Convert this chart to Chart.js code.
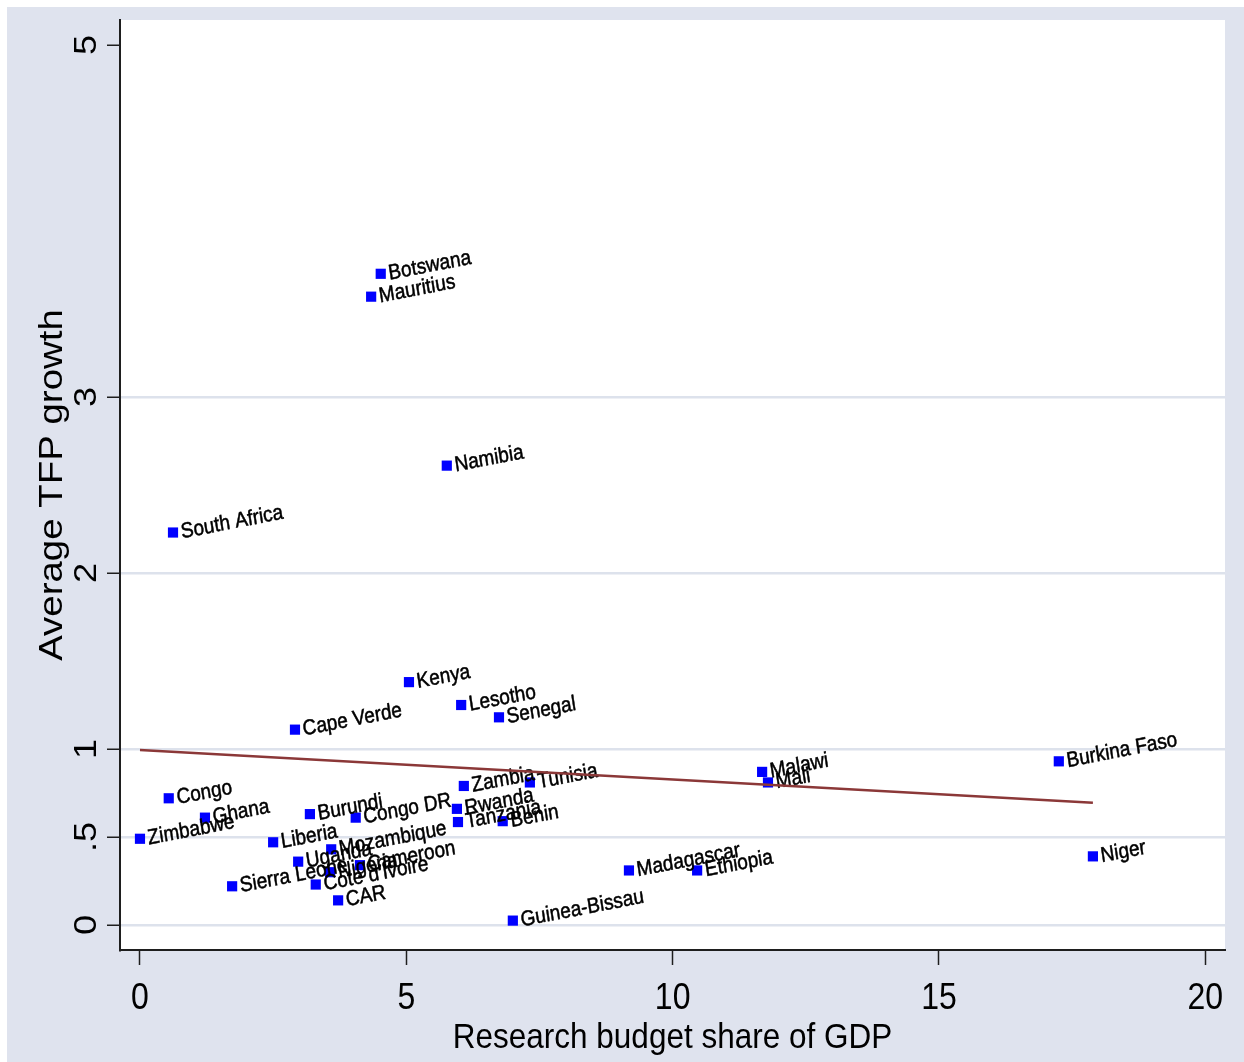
<!DOCTYPE html>
<html>
<head>
<meta charset="utf-8">
<script src="https://cdn.jsdelivr.net/npm/chart.js@4/dist/chart.umd.min.js"></script>
<style>
  html, body { margin: 0; padding: 0; background: #ffffff; }
  canvas { display: block; }
</style>
</head>
<body>
<canvas id="chart" width="1244" height="1062"></canvas>
<script>
// Country names, research budget share of GDP (%) and average TFP growth (%)
const countries = [
  'Botswana', 'Mauritius', 'Namibia', 'South Africa', 'Kenya', 'Lesotho', 'Senegal',
  'Cape Verde', 'Burkina Faso', 'Malawi', 'Mali', 'Zambia', 'Tunisia', 'Congo', 'Ghana',
  'Zimbabwe', 'Burundi', 'Congo DR', 'Rwanda', 'Tanzania', 'Benin', 'Liberia',
  'Mozambique', 'Uganda', 'Nigeria', 'Cameroon', "Cote d'Ivoire", 'CAR', 'Sierra Leone',
  'Guinea-Bissau', 'Madagascar', 'Ethiopia', 'Niger'
];
const researchShare = [
  4.52, 4.34, 5.76, 0.62, 5.05, 6.03, 6.74,
  2.91, 17.25, 11.68, 11.79, 6.08, 7.32, 0.54, 1.22,
  0.00, 3.19, 4.05, 5.95, 5.97, 6.81, 2.50,
  3.59, 2.97, 3.57, 4.13, 3.30, 3.72, 1.73,
  7.00, 9.18, 10.46, 17.89
];
const tfpGrowth = [
  3.70, 3.57, 2.61, 2.23, 1.38, 1.25, 1.18,
  1.11, 0.93, 0.87, 0.81, 0.79, 0.81, 0.72, 0.61,
  0.49, 0.63, 0.61, 0.66, 0.585, 0.59, 0.47,
  0.43, 0.36, 0.30, 0.34, 0.23, 0.14, 0.22,
  0.025, 0.31, 0.31, 0.39
];

// Linear fit line endpoints
const fitX = [0, 17.89];
const fitY = [0.994, 0.695];

// Axis ticks
const xTickValues = [0, 5, 10, 15, 20];
const xTickLabels = ['0', '5', '10', '15', '20'];
const yTickValues = [0, 0.5, 1, 2, 3, 5];
const yTickLabels = ['0', '.5', '1', '2', '3', '5'];

const xTitle = 'Research budget share of GDP';
const yTitle = 'Average TFP growth';

const FONT = '"Liberation Sans", Arial, Helvetica, sans-serif';
const STRETCH = 1.13;                 // glyphs are taller than wide
const LABEL_ANGLE = 9.76 * Math.PI / 180;
const OUTER_BG = '#dfe3ee';
const GRID = '#dde2ec';
const AXIS = '#1e1e1e';

const scatterPoints = researchShare.map((x, i) => ({ x: x, y: tfpGrowth[i] }));
const fitPoints = fitX.map((x, i) => ({ x: x, y: fitY[i] }));

const backgroundPlugin = {
  id: 'panelBackground',
  beforeDraw(chart) {
    const { ctx, chartArea: a } = chart;
    ctx.save();
    ctx.fillStyle = '#ffffff';
    ctx.fillRect(0, 0, chart.width, chart.height);
    ctx.fillStyle = OUTER_BG;
    ctx.fillRect(7, 7, chart.width - 7, chart.height - 7);
    ctx.fillStyle = '#ffffff';
    ctx.fillRect(a.left, a.top, a.right - a.left, a.bottom - a.top);
    ctx.restore();
  }
};

// Country name beside each marker, drawn before the fit line
const countryLabelPlugin = {
  id: 'countryLabels',
  afterDatasetDraw(chart, args) {
    if (args.index !== 0) return;
    const ctx = chart.ctx;
    ctx.save();
    ctx.fillStyle = '#000000';
    ctx.strokeStyle = '#000000';
    ctx.lineWidth = 0.45;
    ctx.font = '19px ' + FONT;
    ctx.textAlign = 'left';
    ctx.textBaseline = 'middle';
    args.meta.data.forEach((pt, i) => {
      ctx.save();
      ctx.translate(pt.x + 8, pt.y);
      ctx.scale(1, STRETCH);
      ctx.rotate(-LABEL_ANGLE);
      ctx.fillText(countries[i], 0, 0);
      ctx.strokeText(countries[i], 0, 0);
      ctx.restore();
    });
    ctx.restore();
  }
};

// Tick labels and axis titles
const axisTextPlugin = {
  id: 'axisText',
  afterDraw(chart) {
    const { ctx, chartArea: a } = chart;
    const xs = chart.scales.x, ys = chart.scales.y;
    ctx.save();
    ctx.fillStyle = '#000000';

    ctx.font = '32px ' + FONT;
    ctx.textAlign = 'center';
    ctx.textBaseline = 'alphabetic';
    xTickValues.forEach((v, i) => {
      ctx.save();
      ctx.translate(xs.getPixelForValue(v), 1009);
      ctx.scale(1, STRETCH);
      ctx.fillText(xTickLabels[i], 0, 0);
      ctx.restore();
    });
    yTickValues.forEach((v, i) => {
      ctx.save();
      ctx.translate(95.5, ys.getPixelForValue(v));
      ctx.scale(1, STRETCH);
      ctx.rotate(-Math.PI / 2);
      ctx.fillText(yTickLabels[i], 0, 0);
      ctx.restore();
    });

    ctx.save();
    ctx.font = '31.5px ' + FONT;
    ctx.translate((a.left + a.right) / 2, 1048);
    ctx.scale(1, STRETCH);
    ctx.fillText(xTitle, 0, 0);
    ctx.restore();

    ctx.save();
    ctx.font = '34px ' + FONT;
    ctx.translate(62, (a.top + a.bottom) / 2);
    ctx.scale(1, STRETCH);
    ctx.rotate(-Math.PI / 2);
    ctx.fillText(yTitle, 0, 0);
    ctx.restore();

    ctx.restore();
  }
};

new Chart(document.getElementById('chart'), {
  type: 'scatter',
  data: {
    datasets: [
      {
        label: 'Average TFP growth',
        data: scatterPoints,
        pointStyle: 'rect',
        pointRadius: 7.2,
        pointHoverRadius: 7.2,
        pointBackgroundColor: '#0000ff',
        pointBorderWidth: 0,
        borderWidth: 0,
        order: 1
      },
      {
        type: 'line',
        label: 'Fitted values',
        data: fitPoints,
        borderColor: '#8b3838',
        borderWidth: 2.6,
        pointRadius: 0,
        fill: false,
        order: 0
      }
    ]
  },
  options: {
    responsive: false,
    devicePixelRatio: 1,
    animation: false,
    events: [],
    layout: { padding: { left: 0, top: 20, right: 19, bottom: 0 } },
    plugins: {
      legend: { display: false },
      tooltip: { enabled: false },
      title: { display: false }
    },
    scales: {
      x: {
        type: 'linear',
        min: -0.375,
        max: 20.37,
        afterBuildTicks: s => { s.ticks = xTickValues.map(v => ({ value: v })); },
        afterFit: s => { s.height = 112; },
        ticks: { display: false },
        grid: {
          drawOnChartArea: false,
          drawTicks: true,
          tickLength: 15,
          tickColor: AXIS,
          tickWidth: 1.5
        },
        border: { display: true, color: AXIS, width: 2 }
      },
      y: {
        type: 'linear',
        min: -0.142,
        max: 5.142,
        afterBuildTicks: s => { s.ticks = yTickValues.map(v => ({ value: v })); },
        afterFit: s => { s.width = 120; },
        ticks: { display: false },
        grid: {
          color: c => (c.tick && c.tick.value === 5) ? 'rgba(0,0,0,0)' : GRID,
          lineWidth: 2.5,
          drawTicks: true,
          tickLength: 13,
          tickColor: AXIS,
          tickWidth: 1.5
        },
        border: { display: true, color: AXIS, width: 2 }
      }
    }
  },
  plugins: [backgroundPlugin, countryLabelPlugin, axisTextPlugin]
});
</script>
</body>
</html>
